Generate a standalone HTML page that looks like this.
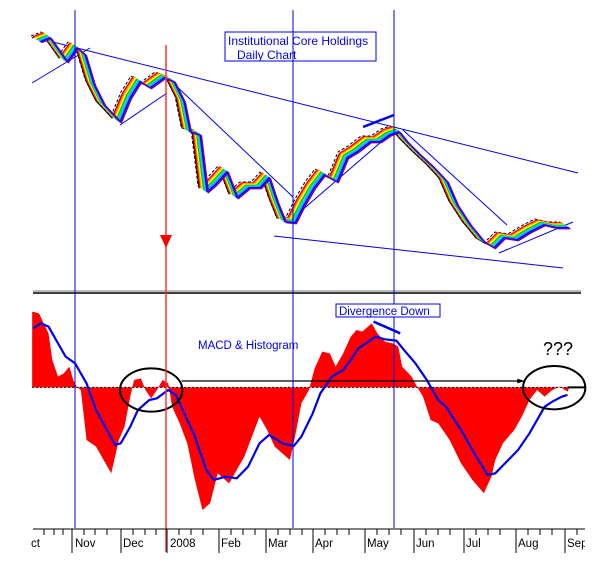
<!DOCTYPE html>
<html><head><style>
html,body{margin:0;padding:0;background:#fff;}
svg{display:block;font-family:"Liberation Sans",Arial,sans-serif;}
</style></head><body>
<svg width="611" height="570" viewBox="0 0 611 570" xmlns="http://www.w3.org/2000/svg">
<defs>
<polyline id="px" fill="none" points="33,37 43,33 53,47 60,57 70,43 78,50 87,80 97,100 113,117 123,93 133,77 143,83 157,73 167,77 177,97 183,127 193,130 200,187 208,180 220,167 230,193 242,183 253,183 262,173 270,197 278,217 288,218 297,200 307,183 317,170 330,177 340,153 350,147 363,137 373,137 383,130 392,127 400,137 413,150 427,163 440,177 450,200 463,220 477,237 487,243 497,233 510,235 523,227 537,220 550,223 562,223"/>
</defs>
<g stroke="#0000ee" stroke-width="1" fill="none">
<line x1="33" y1="37" x2="578" y2="173"/>
<line x1="32" y1="83" x2="90" y2="48"/>
<line x1="120" y1="125" x2="167" y2="93"/>
<line x1="170" y1="80" x2="293" y2="197"/>
<line x1="274" y1="236" x2="563" y2="268"/>
<line x1="293" y1="218" x2="395" y2="130"/>
<line x1="403" y1="130" x2="507" y2="225"/>
<line x1="499" y1="253" x2="573" y2="222"/>
<line x1="363" y1="127" x2="394" y2="115" stroke-width="2.5"/>
</g>
<g fill="none" stroke-width="1.5" stroke-linejoin="round">
<use href="#px" stroke="#000" transform="translate(-2,-1)" stroke-width="1" stroke-dasharray="3,2"/>
<use href="#px" stroke="#000" transform="translate(-1,1)" stroke-width="1"/>
<use href="#px" stroke="#ff0000" transform="translate(0,0)"/>
<use href="#px" stroke="#ff9900" transform="translate(1.2,0.8)"/>
<use href="#px" stroke="#ffff00" transform="translate(2.4,1.6)"/>
<use href="#px" stroke="#00cc00" transform="translate(3.6,2.4)"/>
<use href="#px" stroke="#00dddd" transform="translate(4.8,3.2)"/>
<use href="#px" stroke="#3399ff" transform="translate(6,4)"/>
<use href="#px" stroke="#0000ff" transform="translate(7.2,4.8)"/>
<use href="#px" stroke="#6600aa" transform="translate(8.4,5.6)"/>
</g>
<rect x="225" y="32" width="151" height="29" fill="#fff" stroke="#0000ee"/>
<text x="228" y="45" font-size="12" fill="#0000ee">Institutional Core Holdings</text>
<text x="237" y="59" font-size="12" fill="#0000ee">Daily Chart</text>
<line x1="33" y1="291" x2="581" y2="291" stroke="#777" stroke-width="1"/>
<line x1="33" y1="293" x2="581" y2="293" stroke="#000" stroke-width="1.5"/>
<g transform="translate(20,280) scale(0.3802,0.3333)">
<polygon fill="#ff0000" points="32,322 32,95 50,100 75,160 85,240 100,290 115,280 130,260 140,300 150,322 160,330 175,480 200,500 220,540 240,580 260,480 275,440 290,350 300,300 318,295 330,330 345,355 360,330 375,300 390,310 400,380 420,430 440,490 460,600 480,690 500,670 520,580 550,610 570,570 590,530 610,470 630,410 650,450 670,500 690,520 710,540 725,460 740,370 760,330 775,265 795,215 815,220 830,260 850,220 870,170 885,150 900,155 925,130 940,160 960,185 980,190 995,200 1005,260 1030,290 1045,322 1060,350 1080,420 1100,430 1130,480 1160,550 1190,600 1220,640 1240,590 1250,540 1270,490 1300,450 1320,410 1340,360 1360,330 1380,350 1400,330 1420,320 1440,335 1445,322"/>
<line x1="32" y1="322" x2="1488" y2="322" stroke="#000" stroke-dasharray="2,2" vector-effect="non-scaling-stroke"/>
<line x1="1440" y1="322" x2="1488" y2="322" stroke="#000" stroke-width="2" vector-effect="non-scaling-stroke"/>
<polyline fill="none" stroke="#0000ee" stroke-width="2.2" vector-effect="non-scaling-stroke" points="35,145 55,130 75,140 120,230 145,250 175,310 200,390 250,495 265,490 290,440 310,390 340,360 360,355 390,330 410,345 440,420 460,470 490,570 510,600 540,590 570,595 600,560 630,490 655,465 690,490 720,498 740,470 770,400 790,340 820,290 850,270 870,240 890,205 910,190 935,170 960,178 990,182 1010,210 1040,250 1070,300 1100,360 1120,380 1160,450 1200,530 1230,585 1250,580 1280,545 1310,510 1340,460 1380,380 1400,365 1425,350 1440,345"/>
<line x1="425" y1="303" x2="1318" y2="303" stroke="#000" stroke-width="1.3" vector-effect="non-scaling-stroke"/>
<polygon points="1328,303 1308,296 1308,310" fill="#000"/>
<ellipse cx="345" cy="330" rx="82" ry="65" fill="none" stroke="#000" stroke-width="2" vector-effect="non-scaling-stroke"/>
<ellipse cx="1405" cy="323" rx="82" ry="65" fill="none" stroke="#000" stroke-width="2" vector-effect="non-scaling-stroke"/>
<line x1="930" y1="125" x2="1000" y2="160" stroke="#0000ee" stroke-width="2.5" vector-effect="non-scaling-stroke"/>
</g>
<line x1="75" y1="10" x2="75" y2="528" stroke="#0000ee"/>
<line x1="293" y1="10" x2="293" y2="528" stroke="#0000ee"/>
<line x1="394" y1="10" x2="394" y2="528" stroke="#0000ee"/>
<line x1="166" y1="45" x2="166" y2="552" stroke="#ff3333" stroke-width="1.5"/>
<polygon points="160,235 172,235 166,248" fill="#ff0000"/>
<rect x="336" y="304" width="104" height="13" fill="#fff" stroke="#0000ee"/>
<text x="339" y="315" font-size="11.5" fill="#0000ee">Divergence Down</text>
<text x="198" y="349" font-size="11.5" fill="#0000ee">MACD &amp; Histogram</text>
<text x="543" y="355" font-size="18" fill="#000">???</text>
<line x1="33" y1="529" x2="585" y2="529" stroke="#000"/>
<g stroke="#000">
<path d="M72 529V553M121 529V553M167 529V553M219 529V553M266 529V553M313 529V553M365 529V553M414 529V553M464 529V553M516 529V553M565 529V553"/>
<path d="M44 529V535M54 529V535M63 529V535M84 529V535M95 529V535M107 529V535M133 529V535M145 529V535M156 529V535M179 529V535M191 529V535M203 529V535M231 529V535M243 529V535M255 529V535M278 529V535M290 529V535M302 529V535M325 529V535M337 529V535M349 529V535M377 529V535M389 529V535M401 529V535M426 529V535M438 529V535M450 529V535M476 529V535M488 529V535M500 529V535M528 529V535M540 529V535M552 529V535M577 529V535"/>
</g>
<g font-size="11.5" fill="#000">
<text x="31" y="547">ct</text>
<text x="75" y="547">Nov</text>
<text x="123" y="547">Dec</text>
<text x="170" y="547">2008</text>
<text x="221" y="547">Feb</text>
<text x="268" y="547">Mar</text>
<text x="315" y="547">Apr</text>
<text x="367" y="547">May</text>
<text x="416" y="547">Jun</text>
<text x="466" y="547">Jul</text>
<text x="518" y="547">Aug</text>
<text x="567" y="547">Sep</text>
</g>
<rect x="585" y="520" width="26" height="50" fill="#fff"/>
</svg>
</body></html>
